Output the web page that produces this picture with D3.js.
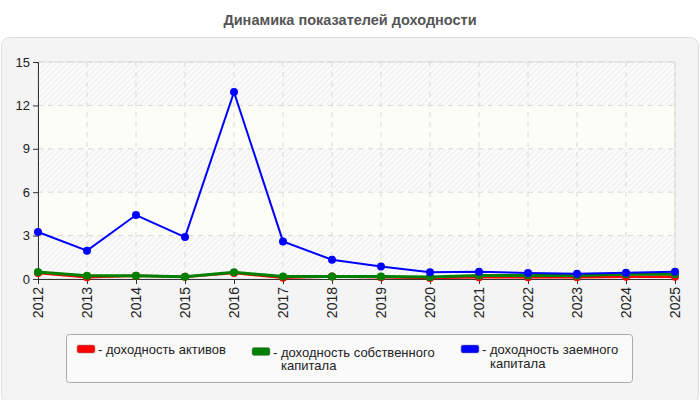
<!DOCTYPE html>
<html><head><meta charset="utf-8">
<script src="https://cdn.jsdelivr.net/npm/d3@7"></script>
<style>body{margin:0;background:#fff;}svg{display:block;font-family:"Liberation Sans",Arial,sans-serif;}</style>
</head><body>
<svg id="c" width="700" height="400"></svg>
<script>
const years = [2012,2013,2014,2015,2016,2017,2018,2019,2020,2021,2022,2023,2024,2025];
const assetsReturn = [0.42,0.12,0.23,0.16,0.42,0.08,0.18,0.12,0.07,0.12,0.12,0.12,0.15,0.15];
const equityReturn = [0.48,0.23,0.23,0.16,0.46,0.18,0.18,0.18,0.14,0.25,0.25,0.25,0.32,0.32];
const debtReturn = [3.25,1.96,4.42,2.9,12.92,2.6,1.33,0.87,0.46,0.5,0.41,0.37,0.43,0.5];
const yTicks = [0,3,6,9,12,15];
const seriesNames = ["доходность активов","доходность собственного\nкапитала","доходность заемного\nкапитала"];
const seriesColors = ["#ff0000","#008000","#0000ff"];

const svg = d3.select("#c");
const defs = svg.append("defs");
const pat = defs.append("pattern").attr("id","hatch").attr("patternUnits","userSpaceOnUse")
  .attr("width",4).attr("height",4).attr("patternTransform","rotate(45)");
pat.append("rect").attr("width",4).attr("height",4).attr("fill","#fbfbfb");
pat.append("line").attr("x1",0).attr("y1",0).attr("x2",0).attr("y2",4).attr("stroke","#e4e4e4").attr("stroke-width",1.2);

// title
svg.append("text").attr("x",350).attr("y",25).attr("text-anchor","middle")
  .attr("font-size",14.5).attr("font-weight","bold").attr("fill","#555").text("Динамика показателей доходности");

// panel
svg.append("rect").attr("x",1.5).attr("y",37.5).attr("width",697).attr("height",366).attr("rx",8)
  .attr("fill","#f4f4f4").attr("stroke","#dedede");

const x = d3.scalePoint().domain(years).range([38,675]);
const y = d3.scaleLinear().domain([0,15]).range([279,62]);

// bands
for (let i=0;i<yTicks.length-1;i++){
  svg.append("rect").attr("x",38).attr("width",675-38)
    .attr("y",y(yTicks[i+1])).attr("height",y(yTicks[i])-y(yTicks[i+1]))
    .attr("fill", i%2===0 ? "url(#hatch)" : "#fdfdf7");
}
svg.append("rect").attr("x",38).attr("y",62).attr("width",637).attr("height",217)
  .attr("fill","none").attr("stroke","#dddddd");

// grid
svg.append("g").selectAll("line").data(years).join("line")
  .attr("x1",d=>x(d)).attr("x2",d=>x(d)).attr("y1",62).attr("y2",279)
  .attr("stroke","#d8d8d8").attr("stroke-dasharray","5,5");
svg.append("g").selectAll("line").data(yTicks).join("line")
  .attr("x1",38).attr("x2",675).attr("y1",d=>y(d)).attr("y2",d=>y(d))
  .attr("stroke","#d8d8d8").attr("stroke-dasharray","5,5");

// axes
const ya = svg.append("g").attr("transform","translate(38,0)")
  .call(d3.axisLeft(y).tickValues(yTicks).tickSize(5).tickPadding(3));
const xa = svg.append("g").attr("transform","translate(0,279)")
  .call(d3.axisBottom(x).tickSize(5).tickFormat(d=>d));
[ya,xa].forEach(a=>{a.select(".domain").attr("stroke","#333");a.selectAll(".tick line").attr("stroke","#333");
  a.selectAll("text").attr("fill","#222").attr("font-family","Liberation Sans, Arial, sans-serif");});
ya.selectAll("text").attr("font-size",13);
xa.selectAll("text").attr("font-size",14).attr("transform","rotate(-90)").attr("text-anchor","end")
  .attr("x",-8).attr("y",0).attr("dy","0.35em");

// series
const data = [assetsReturn, equityReturn, debtReturn];
const widths = [2.5,3,2];
const line = d3.line().x((d,i)=>x(years[i])).y(d=>y(d));
data.forEach((s,k)=>{
  const g = svg.append("g");
  g.append("path").datum(s).attr("d",line).attr("fill","none")
    .attr("stroke",seriesColors[k]).attr("stroke-width",widths[k]);
  g.selectAll("circle").data(s).join("circle")
    .attr("cx",(d,i)=>x(years[i])).attr("cy",d=>y(d)).attr("r",4).attr("fill",seriesColors[k]);
});

// legend
svg.append("rect").attr("x",66.5).attr("y",334.5).attr("width",566).attr("height",48).attr("rx",3)
  .attr("fill","#fafafa").attr("stroke","#aaaaaa");
const lx = [77,252,461];
const ly = [345,347.5,345];
seriesNames.forEach((n,k)=>{
  svg.append("rect").attr("x",lx[k]).attr("y",ly[k]).attr("width",18).attr("height",8).attr("rx",2)
    .attr("fill",seriesColors[k]).attr("stroke","#888").attr("stroke-width",0.5);
  const lines = ("- "+n).split("\n");
  lines.forEach((l,j)=>{
    svg.append("text").attr("font-size",13).attr("fill","#222")
      .attr("x", j===0 ? lx[k]+21 : lx[k]+29).attr("y", ly[k]+9+j*13.5).text(l);
  });
});
</script>
</body></html>
